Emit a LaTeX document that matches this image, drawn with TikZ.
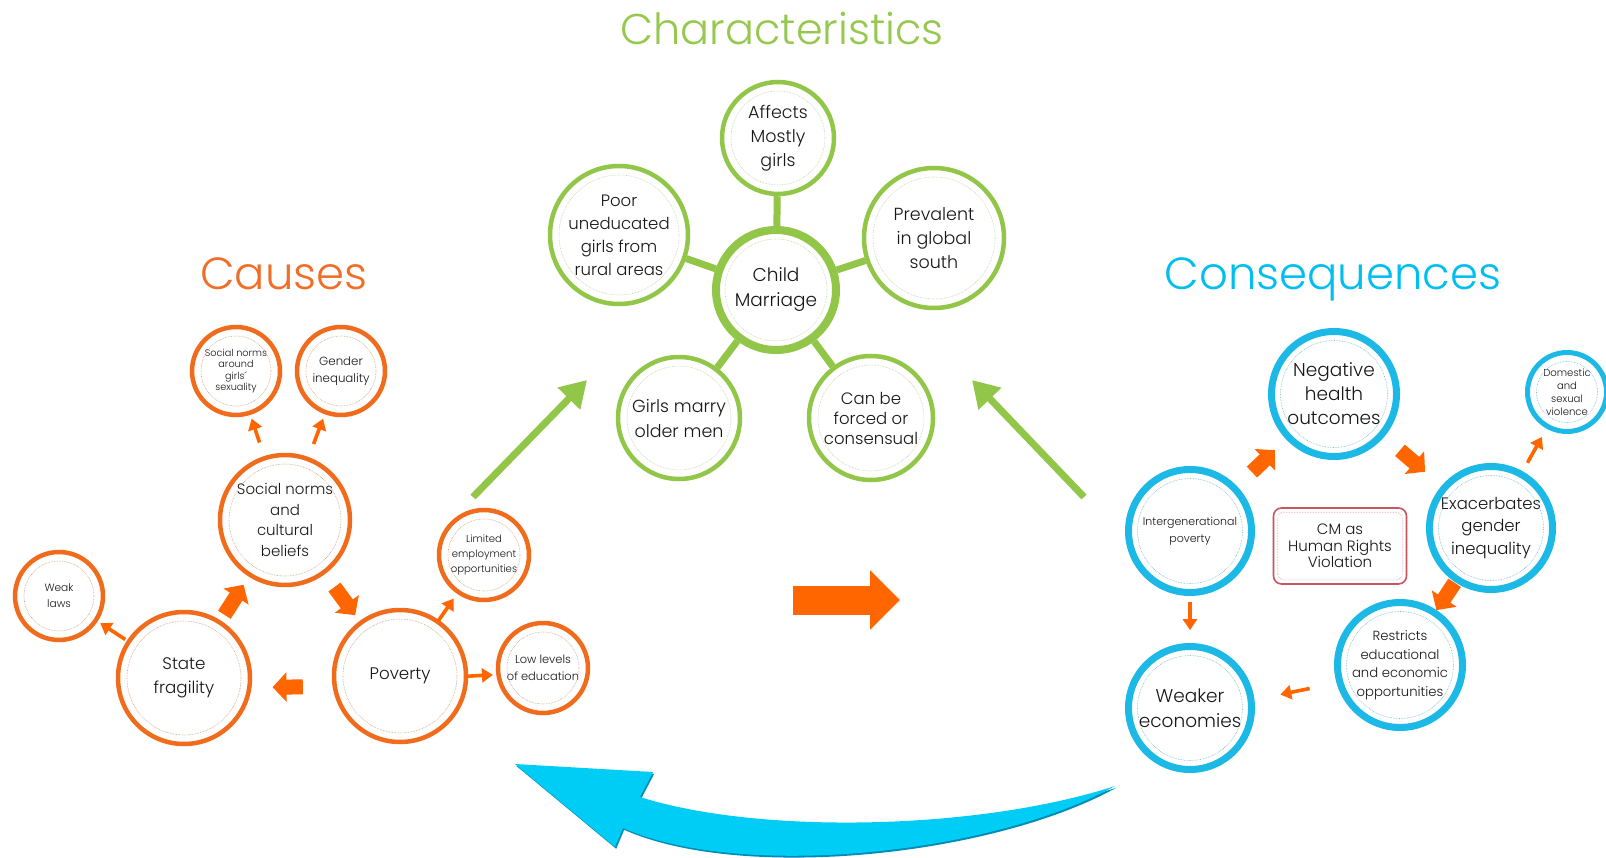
\documentclass[tikz,border=0pt]{standalone}
\usepackage{fontspec}
\setmainfont{Poppins}[UprightFont={* Light}]
\usetikzlibrary{arrows.meta,calc}
\definecolor{org}{RGB}{240,108,28}
\definecolor{orgT}{RGB}{240,110,40}
\definecolor{orgA}{RGB}{255,102,0}
\definecolor{orgD}{RGB}{205,150,120}
\definecolor{grn}{RGB}{146,198,72}
\definecolor{grnT}{RGB}{150,200,80}
\definecolor{grnD}{RGB}{185,210,160}
\definecolor{cyn}{RGB}{28,184,230}
\definecolor{cynT}{RGB}{0,190,240}
\definecolor{cynD}{RGB}{110,185,195}
\definecolor{cynA}{RGB}{0,205,245}
\definecolor{cynS}{RGB}{0,140,180}
\definecolor{cmr}{RGB}{200,85,95}
\definecolor{txt}{RGB}{25,22,22}
\newcommand{\fz}[2]{\fontsize{#1}{#2}\selectfont}
\newcommand{\bub}[7]{%
  \node[#1, minimum size={2*#5*1pt}, font=#6] (#2) at (#3,#4) {#7};
  \draw[#1dot] (#2.center) circle ({(#5-9)*1pt});
}
\tikzset{
  bubbase/.style={circle, inner sep=0pt, align=center, text=txt, fill=white},
  obub/.style={bubbase, draw=org, line width=4.5pt},
  obubdot/.style={draw=orgD, line width=0.6pt, densely dotted},
  gbub/.style={bubbase, draw=grn, line width=4.5pt},
  gbubdot/.style={draw=grnD, line width=0.6pt, densely dotted},
  gbig/.style={bubbase, draw=grn, line width=8pt},
  gbigdot/.style={draw=grnD, line width=0.6pt, densely dotted},
  cbub/.style={bubbase, draw=cyn, line width=7pt},
  cbubdot/.style={draw=cynD, line width=0.6pt, densely dotted},
  cbubs/.style={bubbase, draw=cyn, line width=5pt},
  cbubsdot/.style={draw=cynD, line width=0.6pt, densely dotted},
  gcon/.style={draw=grn, line width=7pt},
  garr/.style={draw=grn, line width=7pt, -{Triangle[length=26pt,width=30pt]}},
  oblk/.style={draw=orgA, line width=15pt, -{Triangle[length=14pt,width=29pt]}},
  othin/.style={draw=orgA, line width=3.6pt, -{Triangle[length=11pt,width=14pt]}},
  bigblk/.style={draw=orgA, line width=29pt, -{Triangle[length=30pt,width=58pt]}},
  ttl/.style={anchor=base, inner sep=0pt}
}
\begin{document}
\begin{tikzpicture}[x=1pt,y=-1pt]
\useasboundingbox (0,0) rectangle (1606,858);
\fill[white] (0,0) rectangle (1606,858);

% titles
\node[ttl, text=grnT, font=\fz{43}{50}] (tchar) at (782,45) {Characteristics};
\node[ttl, text=orgT, font=\fz{45}{54}] (tcause) at (284,290) {Causes};
\node[ttl, text=cynT, font=\fz{45}{54}] (tcons) at (1333,290) {Consequences};

% characteristics
\bub{gbig}{cm}{776}{290}{60}{\fz{18.5}{25}}{Child\\Marriage}
\bub{gbub}{aff}{778}{138}{56}{\fz{17.5}{24}}{Affects\\Mostly\\girls}
\bub{gbub}{poor}{619}{235}{69}{\fz{16.5}{23}}{Poor\\uneducated\\girls from\\rural areas}
\bub{gbub}{prev}{934}{238}{70}{\fz{17.5}{24}}{Prevalent\\in global\\south}
\bub{gbub}{girls}{679}{418}{61}{\fz{17.5}{25}}{Girls marry\\older men}
\bub{gbub}{can}{871}{418}{62}{\fz{16.5}{20}}{Can be\\forced or\\consensual}
\draw[gcon] (cm) -- (aff);
\draw[gcon] (cm) -- (poor);
\draw[gcon] (cm) -- (prev);
\draw[gcon] (cm) -- (girls);
\draw[gcon] (cm) -- (can);

% causes
\bub{obub}{sng}{236}{371}{44}{\fz{9.7}{11.3}}{Social norms\\around\\girls´\\sexuality}
\bub{obub}{gi}{341}{371}{44}{\fz{11.8}{17}}{Gender\\inequality}
\bub{obub}{snc}{285}{520}{65}{\fz{15}{20.5}}{Social norms\\and\\cultural\\beliefs}
\bub{obub}{wl}{59}{596}{44}{\fz{10.6}{16}}{Weak\\laws}
\bub{obub}{sf}{184}{678}{66}{\fz{16.7}{24}}{State\\fragility}
\bub{obub}{pov}{400}{676}{66}{\fz{16.7}{24}}{Poverty}
\bub{obub}{lim}{484}{555}{45}{\fz{10.1}{15}}{Limited\\employment\\opportunities}
\bub{obub}{low}{543}{668}{45}{\fz{11.4}{17}}{Low levels\\of education}

\draw[othin] ($(snc)!0.52!(sng)$) -- ($(snc)!0.68!(sng)$);
\draw[othin] ($(snc)!0.51!(gi)$) -- ($(snc)!0.68!(gi)$);
\draw[othin] ($(sf)!0.47!(wl)$) -- ($(sf)!0.67!(wl)$);
\draw[othin] ($(pov)!0.45!(lim)$) -- ($(pov)!0.64!(lim)$);
\draw[othin] ($(pov)!0.46!(low)+(0,4)$) -- ($(pov)!0.65!(low)+(0,4)$);
\draw[oblk] ($(sf)!0.40!(snc)$) -- ($(sf)!0.59!(snc)$);
\draw[oblk] ($(snc)!0.43!(pov)$) -- ($(snc)!0.61!(pov)$);
\draw[oblk] ($(pov)!0.45!(sf)+(0,10)$) -- ($(pov)!0.59!(sf)+(0,10)$);

% consequences
\bub{cbub}{neg}{1334}{394}{62.5}{\fz{18.5}{24}}{Negative\\health\\outcomes}
\bub{cbubs}{dom}{1567}{392}{39.5}{\fz{10.1}{13}}{Domestic\\and\\sexual\\violence}
\bub{cbub}{int}{1190}{531}{61.5}{\fz{11}{17}}{Intergenerational\\poverty}
\bub{cbub}{exa}{1491}{528}{61.5}{\fz{16.5}{22.5}}{Exacerbates\\gender\\inequality}
\bub{cbub}{res}{1400}{665}{62.5}{\fz{13.2}{18.5}}{Restricts\\educational\\and economic\\opportunities}
\bub{cbub}{wea}{1190}{708}{61.5}{\fz{18.5}{25}}{Weaker\\economies}

\node[draw=cmr, line width=1.6pt, rounded corners=8pt, minimum width=133pt, minimum height=76pt,
      align=center, text=txt, font=\fz{15}{16.5}, inner sep=0pt] (cmb) at (1340,546) {CM as\\Human Rights\\Violation};
\draw[cmr!60, line width=0.6pt, densely dotted, rounded corners=6pt]
  ($(cmb.south west)+(5,-5)$) rectangle ($(cmb.north east)+(-5,5)$);

\draw[oblk] ($(int)!0.43!(neg)$) -- ($(int)!0.59!(neg)$);
\draw[oblk] ($(neg)!0.42!(exa)$) -- ($(neg)!0.58!(exa)$);
\draw[oblk] ($(exa)!0.40!(res)$) -- ($(exa)!0.60!(res)$);
\draw[othin] ($(exa)!0.48!(dom)$) -- ($(exa)!0.67!(dom)$);
\draw[othin] ($(res)!0.43!(wea)+(0,5)$) -- ($(res)!0.57!(wea)+(0,5)$);
\draw[othin] ($(int)!0.40!(wea)$) -- ($(int)!0.56!(wea)$);

% green arrows
\coordinate (gla) at (473,497);
\coordinate (glb) at (587,380);
\coordinate (gra) at (1084,497);
\coordinate (grb) at (972,380);
\draw[garr] (gla) -- (glb);
\draw[garr] (gra) -- (grb);

% middle orange arrow
\coordinate (ma) at (793,600);
\coordinate (mb) at (900,600);
\draw[bigblk] (ma) -- (mb);

% big blue curved arrow
\def\bluepath{(515,764) -- (653,772) -- (640,797)
  .. controls (760,835) and (980,830) .. (1115,786)
  .. controls (990,855) and (740,880) .. (623,828) -- (615,847) -- cycle}
\fill[cynS, shift={(1.2,1.8)}] \bluepath;
\fill[cynA] \bluepath;
\end{tikzpicture}
\end{document}
